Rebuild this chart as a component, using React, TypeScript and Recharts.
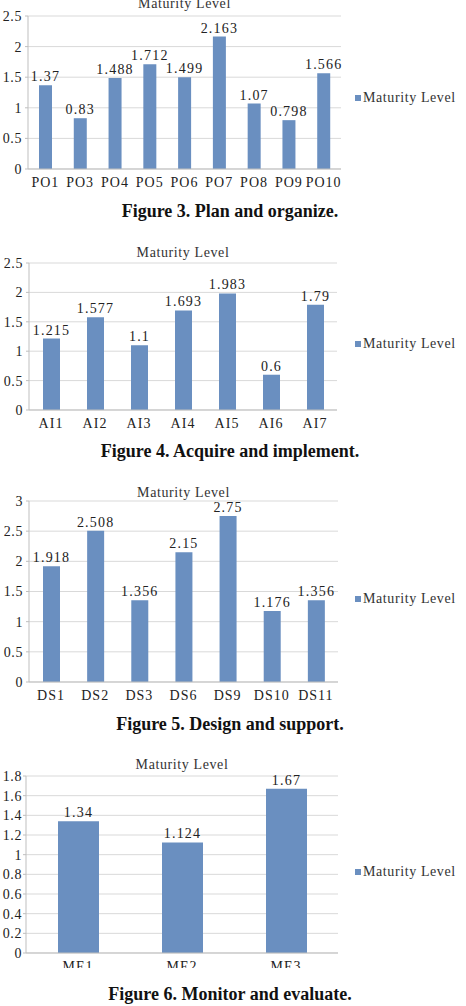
import { BarChart, Bar, XAxis, YAxis, CartesianGrid, LabelList } from "recharts";

// Plan and organize
const poCategories = ["PO1", "PO3", "PO4", "PO5", "PO6", "PO7", "PO8", "PO9", "PO10"];
const poValues = [1.37, 0.83, 1.488, 1.712, 1.499, 2.163, 1.07, 0.798, 1.566];
const poTicks = [0, 0.5, 1, 1.5, 2, 2.5];

// Acquire and implement
const aiCategories = ["AI1", "AI2", "AI3", "AI4", "AI5", "AI6", "AI7"];
const aiValues = [1.215, 1.577, 1.1, 1.693, 1.983, 0.6, 1.79];
const aiTicks = [0, 0.5, 1, 1.5, 2, 2.5];

// Design and support
const dsCategories = ["DS1", "DS2", "DS3", "DS6", "DS9", "DS10", "DS11"];
const dsValues = [1.918, 2.508, 1.356, 2.15, 2.75, 1.176, 1.356];
const dsTicks = [0, 0.5, 1, 1.5, 2, 2.5, 3];

// Monitor and evaluate
const meCategories = ["ME1", "ME2", "ME3"];
const meValues = [1.34, 1.124, 1.67];
const meTicks = [0, 0.2, 0.4, 0.6, 0.8, 1, 1.2, 1.4, 1.6, 1.8];

const BAR_COLOR = "#6a8fc0";
const SERIF = '"Liberation Serif", "Times New Roman", serif';
const SERIES_NAME = "Maturity Level";

interface PanelProps {
  top: number;
  height: number;
  clipHeight?: number;
  marginTop: number;
  axisWidth: number;
  yTickGap: number;
  marginRight: number;
  barSize: number;
  categories: string[];
  values: number[];
  ticks: number[];
  titleY: number;
  legendY: number;
}

function Panel(p: PanelProps) {
  const data = p.categories.map((name, i) => ({ name, value: p.values[i] }));
  const plotLeft = p.axisWidth;
  const plotRight = 466 - p.marginRight;
  const titleCenter = (plotLeft + plotRight) / 2;
  const tickStyle = { fontFamily: SERIF, fontSize: 14, fill: "#222", letterSpacing: 1 };
  const yTickStyle = { ...tickStyle, letterSpacing: 0.6 };

  return (
    <div
      style={{
        position: "absolute",
        top: p.top,
        left: 0,
        width: 466,
        height: p.clipHeight ?? p.height,
        overflow: "hidden",
      }}
    >
      <BarChart
        width={466}
        height={p.height}
        data={data}
        margin={{ top: p.marginTop, right: p.marginRight, bottom: 0, left: 0 }}
      >
        <CartesianGrid vertical={false} stroke="#d9d9d9" />
        <XAxis
          dataKey="name"
          stroke="#bfbfbf"
          tickLine={false}
          tickSize={4}
          tickMargin={4}
          height={24}
          interval={0}
          tick={tickStyle}
        />
        <YAxis
          type="number"
          domain={[0, p.ticks[p.ticks.length - 1]]}
          ticks={p.ticks}
          width={p.axisWidth}
          stroke="#bfbfbf"
          tickSize={3}
          tickMargin={p.yTickGap}
          interval={0}
          tick={yTickStyle}
        />
        <Bar dataKey="value" fill={BAR_COLOR} barSize={p.barSize} isAnimationActive={false}>
          <LabelList dataKey="value" position="top" offset={4} style={{ ...tickStyle, letterSpacing: 1.2 }} />
        </Bar>
      </BarChart>
      <div
        style={{
          position: "absolute",
          left: titleCenter - 80,
          width: 160,
          top: p.titleY - 8,
          textAlign: "center",
          fontFamily: SERIF,
          fontSize: 14,
          letterSpacing: 0.6,
          color: "#333",
          lineHeight: "16px",
        }}
      >
        {SERIES_NAME}
      </div>
      <div
        style={{
          position: "absolute",
          left: 355,
          top: p.legendY - 8,
          display: "flex",
          alignItems: "center",
          fontFamily: SERIF,
          fontSize: 14,
          letterSpacing: 0.6,
          color: "#333",
          lineHeight: "16px",
          whiteSpace: "nowrap",
        }}
      >
        <span style={{ width: 6, height: 6, background: BAR_COLOR, marginRight: 2, display: "inline-block" }} />
        {SERIES_NAME}
      </div>
    </div>
  );
}

function Caption({ y, text }: { y: number; text: string }) {
  return (
    <div
      style={{
        position: "absolute",
        top: y - 11,
        left: 0,
        width: 460,
        textAlign: "center",
        fontFamily: SERIF,
        fontWeight: "bold",
        fontSize: 18,
        lineHeight: "22px",
        color: "#111",
      }}
    >
      {text}
    </div>
  );
}

export default function App() {
  return (
    <div style={{ position: "absolute", top: 0, left: 0, width: 466, height: 1006, background: "#fff", overflow: "hidden" }}>
      <Panel
        top={0}
        height={193}
        marginTop={16}
        axisWidth={28}
        yTickGap={3}
        marginRight={125}
        barSize={13}
        categories={poCategories}
        values={poValues}
        ticks={poTicks}
        titleY={4}
        legendY={98}
      />
      <Caption y={211} text="Figure 3. Plan and organize." />

      <Panel
        top={240}
        height={194}
        marginTop={23}
        axisWidth={29}
        yTickGap={3}
        marginRight={129}
        barSize={17}
        categories={aiCategories}
        values={aiValues}
        ticks={aiTicks}
        titleY={13}
        legendY={104}
      />
      <Caption y={451} text="Figure 4. Acquire and implement." />

      <Panel
        top={480}
        height={226}
        marginTop={21}
        axisWidth={29}
        yTickGap={3}
        marginRight={128}
        barSize={17}
        categories={dsCategories}
        values={dsValues}
        ticks={dsTicks}
        titleY={13}
        legendY={119}
      />
      <Caption y={724} text="Figure 5. Design and support." />

      <Panel
        top={740}
        height={237}
        clipHeight={228}
        marginTop={36}
        axisWidth={26}
        yTickGap={1}
        marginRight={128}
        barSize={41}
        categories={meCategories}
        values={meValues}
        ticks={meTicks}
        titleY={25}
        legendY={132}
      />
      <Caption y={994} text="Figure 6. Monitor and evaluate." />
    </div>
  );
}
